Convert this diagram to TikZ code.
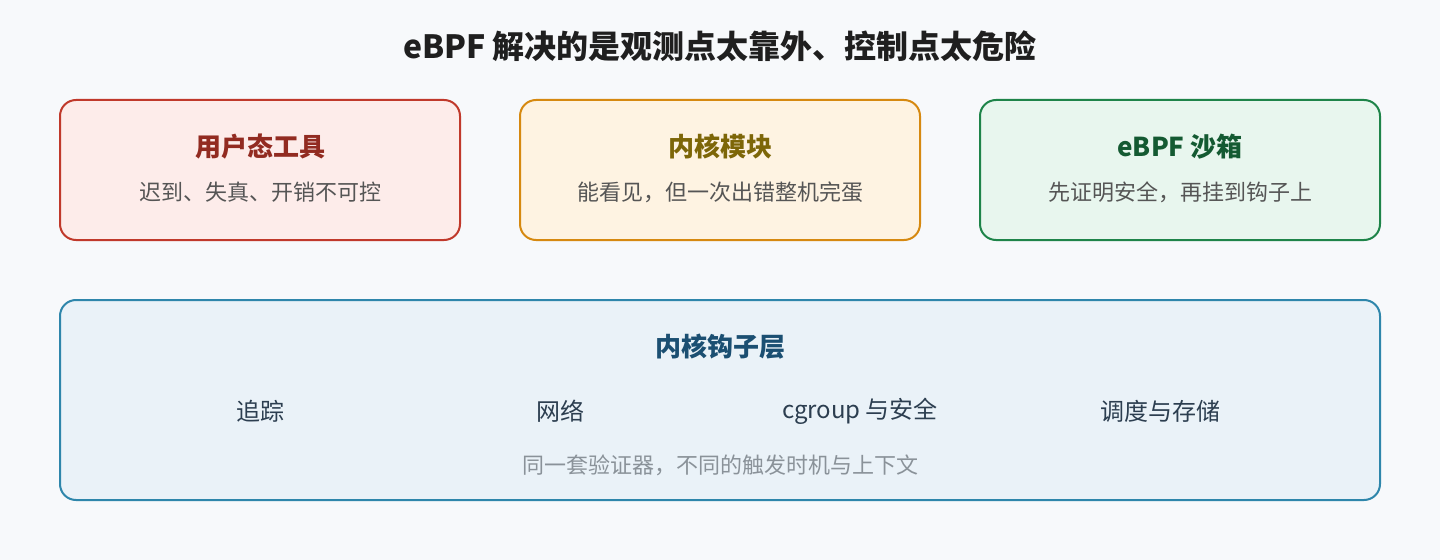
\documentclass[tikz,border=0pt]{standalone}
\usepackage{fontspec}
\setmainfont{Noto Sans CJK SC}
\begin{document}
\begin{tikzpicture}[x=0.75pt,y=-0.75pt,
  card/.style={draw, line width=1.5pt, rounded corners=12pt},
  ttl/.style={font=\fontsize{19.5}{22}\selectfont\bfseries, anchor=center},
  sub/.style={font=\fontsize{16.5}{20}\selectfont, text=subgrey, anchor=center},
  item/.style={font=\fontsize{18}{22}\selectfont, text=itemdark, anchor=center},
]
\definecolor{bg}{HTML}{F7F9FB}
\definecolor{subgrey}{HTML}{555555}
\definecolor{itemdark}{HTML}{2C3E50}
\definecolor{footgrey}{HTML}{8A9299}
\definecolor{redS}{HTML}{C0392B}\definecolor{redF}{HTML}{FDECEA}\definecolor{redT}{HTML}{922B21}
\definecolor{orS}{HTML}{D68910}\definecolor{orF}{HTML}{FEF3E2}\definecolor{orT}{HTML}{7D6608}
\definecolor{grS}{HTML}{1E8449}\definecolor{grF}{HTML}{E8F6EE}\definecolor{grT}{HTML}{145A32}
\definecolor{blS}{HTML}{2E86AB}\definecolor{blF}{HTML}{EAF2F8}\definecolor{blT}{HTML}{1B4F72}
\fill[bg] (0,0) rectangle (1440,560);
\useasboundingbox (0,0) rectangle (1440,560);

\node[font=\fontsize{24}{28}\selectfont\bfseries, text=black!88] (title) at (720,46) {eBPF 解决的是观测点太靠外、控制点太危险};

\draw[card, draw=redS, fill=redF] (60,100) rectangle (460,240);
\node[ttl, text=redT] (t1) at (260,147) {用户态工具};
\node[sub] (s1) at (260,192) {迟到、失真、开销不可控};

\draw[card, draw=orS, fill=orF] (520,100) rectangle (920,240);
\node[ttl, text=orT] (t2) at (720,147) {内核模块};
\node[sub] (s2) at (720,192) {能看见，但一次出错整机完蛋};

\draw[card, draw=grS, fill=grF] (980,100) rectangle (1380,240);
\node[ttl, text=grT] (t3) at (1180,147) {eBPF 沙箱};
\node[sub] (s3) at (1180,192) {先证明安全，再挂到钩子上};

\draw[card, draw=blS, fill=blF] (60,300) rectangle (1380,500);
\node[ttl, text=blT] (t4) at (720,347) {内核钩子层};
\node[item] (i1) at (260,411) {追踪};
\node[item] (i2) at (560,411) {网络};
\node[item] (i3) at (860,411) {cgroup 与安全};
\node[item] (i4) at (1160,411) {调度与存储};
\node[sub, text=footgrey] (f) at (720,465) {同一套验证器，不同的触发时机与上下文};
\end{tikzpicture}
\end{document}
